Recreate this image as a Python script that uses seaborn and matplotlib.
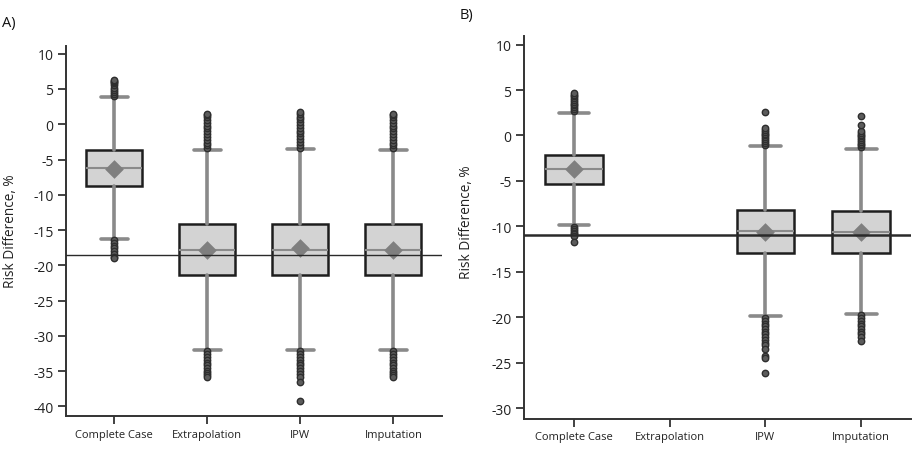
import numpy as np
import pandas as pd
import matplotlib
matplotlib.use("Agg")
import matplotlib.pyplot as plt
import seaborn as sns

categories = ["Complete Case", "Extrapolation", "IPW", "Imputation"]

# Panel A summary statistics
a_q1 = [-8.8, -21.4, -21.3, -21.4]
a_med = [-6.2, -17.8, -17.8, -17.8]
a_q3 = [-3.6, -14.2, -14.2, -14.2]
a_whislo = [-16.2, -32.0, -32.0, -32.0]
a_whishi = [3.9, -3.6, -3.5, -3.6]
a_mean = [-6.3, -17.8, -17.6, -17.8]
a_truth = -18.5
a_outliers = {
    "Complete Case": [4.0, 4.3, 4.6, 4.9, 5.2, 5.5, 5.8, 6.0, 6.2, 6.3,
                      -16.4, -16.8, -17.2, -17.6, -18.0, -18.4, -18.8, -19.0],
    "Extrapolation": [-3.4, -3.0, -2.6, -2.2, -1.8, -1.4, -1.0, -0.6, -0.2, 0.2, 0.6, 1.0, 1.3, 1.5,
                      -32.2, -32.6, -33.0, -33.4, -33.8, -34.2, -34.6, -35.0, -35.3, -35.6, -35.8],
    "IPW": [-3.3, -2.9, -2.5, -2.1, -1.7, -1.3, -0.9, -0.5, -0.1, 0.3, 0.7, 1.1, 1.5, 1.8,
            -32.2, -32.6, -33.0, -33.4, -33.8, -34.2, -34.6, -35.0, -35.4, -35.8, -36.6, -39.3],
    "Imputation": [-3.4, -3.0, -2.6, -2.2, -1.8, -1.4, -1.0, -0.6, -0.2, 0.2, 0.6, 1.0, 1.3, 1.5,
                   -32.2, -32.6, -33.0, -33.4, -33.8, -34.2, -34.6, -35.0, -35.3, -35.6, -35.8],
}

# Panel B summary statistics (no Extrapolation estimates)
b_q1 = [-5.3, np.nan, -12.9, -12.9]
b_med = [-3.7, np.nan, -10.5, -10.6]
b_q3 = [-2.1, np.nan, -8.2, -8.3]
b_whislo = [-9.9, np.nan, -19.9, -19.6]
b_whishi = [2.5, np.nan, -1.2, -1.5]
b_mean = [-3.7, np.nan, -10.6, -10.6]
b_truth = -11.0
b_outliers = {
    "Complete Case": [2.7, 2.9, 3.1, 3.3, 3.5, 3.7, 3.9, 4.1, 4.3, 4.5, 4.7,
                      -10.1, -10.3, -10.5, -10.7, -10.9, -11.1, -11.7],
    "Extrapolation": [],
    "IPW": [-1.0, -0.8, -0.6, -0.4, -0.2, 0.0, 0.2, 0.4, 0.6, 0.8, 2.6,
            -20.1, -20.4, -20.7, -21.0, -21.3, -21.6, -21.9, -22.2, -22.5, -22.8, -23.1, -23.5,
            -24.3, -24.5, -26.1],
    "Imputation": [-1.3, -1.1, -0.9, -0.7, -0.5, -0.3, -0.1, 0.1, 0.3, 0.5, 1.2, 2.1,
                   -19.8, -20.1, -20.4, -20.7, -21.0, -21.3, -21.6, -21.9, -22.2, -22.6],
}

sns.set_theme(style="ticks")
plt.rcParams["font.family"] = ["Open Sans", "DejaVu Sans"]

fig = plt.figure(figsize=(9.13, 4.56), dpi=100)
axA = fig.add_axes([0.0723, 0.0849, 0.4115, 0.8121])
axB = fig.add_axes([0.574, 0.079, 0.4238, 0.839])

box_fill = "#d3d3d3"
gray = "#8a8a8a"
dark = "#1e1e1e"


def draw_panel(ax, q1, med, q3, wlo, whi, mean, outliers, truth, truth_lw, ylim, yticks, capw):
    out_df = pd.DataFrame(
        [(c, v) for c in categories for v in outliers[c]], columns=["method", "rd"]
    )
    out_df["method"] = pd.Categorical(out_df["method"], categories=categories)
    mean_df = pd.DataFrame({"method": categories, "rd": mean}).dropna()
    mean_df["method"] = pd.Categorical(mean_df["method"], categories=categories)

    sns.stripplot(data=out_df, x="method", y="rd", order=categories, jitter=False,
                  color="#5c5c5c", edgecolor="#2e2e2e", linewidth=1.0, size=4.6,
                  ax=ax, zorder=3)
    sns.stripplot(data=mean_df, x="method", y="rd", order=categories, jitter=False,
                  marker="D", color="#7f7f7f", edgecolor="#7f7f7f", linewidth=0,
                  size=9.5, ax=ax, zorder=4)

    stats, pos = [], []
    for i, c in enumerate(categories):
        if np.isnan(q1[i]):
            continue
        stats.append(dict(med=med[i], q1=q1[i], q3=q3[i], whislo=wlo[i],
                          whishi=whi[i], fliers=[], label=c))
        pos.append(i)
    ax.bxp(stats, positions=pos, widths=0.6, capwidths=capw, patch_artist=True,
           showfliers=False, manage_ticks=False,
           boxprops=dict(facecolor=box_fill, edgecolor=dark, linewidth=1.8),
           medianprops=dict(color=gray, linewidth=1.5),
           whiskerprops=dict(color=gray, linewidth=2.6),
           capprops=dict(color=gray, linewidth=2.6), zorder=2)

    ax.axhline(truth, color="#2a2a2a", linewidth=truth_lw, zorder=5)
    ax.set_xlim(-0.52, 3.52)
    ax.set_ylim(*ylim)
    ax.set_yticks(yticks)
    ax.set_yticklabels([str(t) for t in yticks], fontsize=10, color="#222222")
    ax.set_xticks(range(len(categories)))
    ax.set_xticklabels(categories, fontsize=8, color="#222222")
    ax.set_xlabel("")
    ax.set_ylabel("Risk Difference, %", fontsize=9.8, color="#222222")
    for s in ["top", "right"]:
        ax.spines[s].set_visible(False)
    for s in ["left", "bottom"]:
        ax.spines[s].set_color("#333333")
        ax.spines[s].set_linewidth(1.4)
    ax.tick_params(direction="out", length=6, width=1.3, color="#333333", pad=3)


draw_panel(axA, a_q1, a_med, a_q3, a_whislo, a_whishi, a_mean, a_outliers,
           a_truth, 1.0, (-41.4, 11.1), list(range(-40, 11, 5)), 0.29)
draw_panel(axB, b_q1, b_med, b_q3, b_whislo, b_whishi, b_mean, b_outliers,
           b_truth, 1.8, (-31.2, 10.9), list(range(-30, 11, 5)), 0.32)

axA.yaxis.set_label_coords(-0.127, 0.502)
axB.yaxis.set_label_coords(-0.13, 0.516)

fig.text(0.002, 0.948, "A)", fontsize=10.5, ha="left", va="center", color="#111111")
fig.text(0.503, 0.965, "B)", fontsize=10.5, ha="left", va="center", color="#111111")

fig.savefig("out.png", dpi=100)
